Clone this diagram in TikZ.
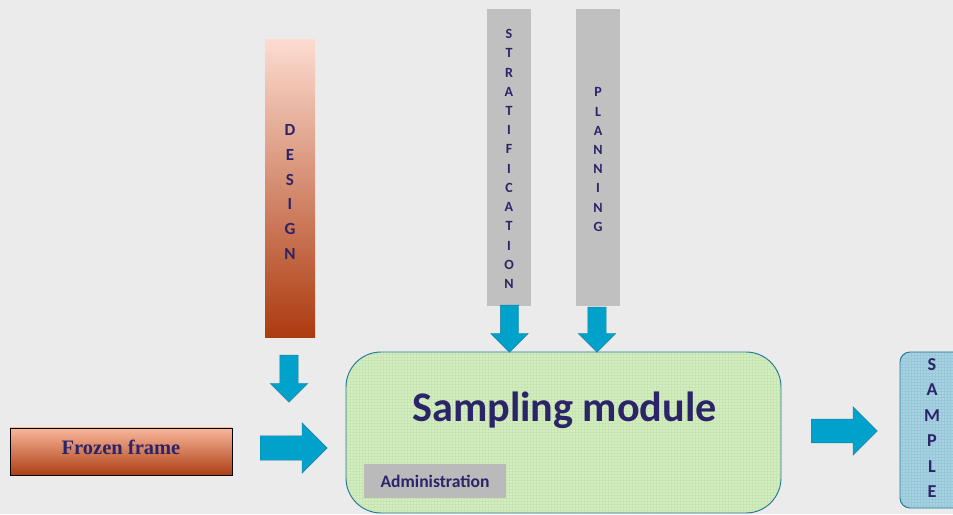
\documentclass[tikz,border=0pt]{standalone}
\usepackage{fontspec}
\setmainfont{Liberation Serif}
\setsansfont{Carlito}
\usetikzlibrary{shapes.arrows}

\definecolor{bggray}{HTML}{EBEBEB}
\definecolor{navy}{HTML}{2B2468}
\definecolor{barGray}{HTML}{C0C0C0}
\definecolor{designTop}{HTML}{FCDCD0}
\definecolor{designBot}{HTML}{AC3A0E}
\definecolor{frozenTop}{HTML}{F9B79B}
\definecolor{frozenMid}{HTML}{EDA386}
\definecolor{frozenBot}{HTML}{AD3E15}
\definecolor{modFill}{HTML}{D5EDC3}
\definecolor{modGrid}{HTML}{C6E5B0}
\definecolor{tealLine}{HTML}{1F7A96}
\definecolor{smpFill}{HTML}{A9D3E3}
\definecolor{smpGrid}{HTML}{97C7D9}
\definecolor{arrowFill}{HTML}{00A2CB}
\definecolor{arrowLine}{HTML}{1B7E9E}

\begin{document}
\begin{tikzpicture}[
	letters/.style={align=center,text=navy,font=\sffamily\bfseries},
	bar/.style={inner sep=0pt},
	bigarrow/.style={single arrow,anchor=tail,draw=arrowLine,fill=arrowFill,inner sep=0.36cm,single arrow head extend=0.39cm,minimum height=2.01cm},
	smallarrow/.style={single arrow,anchor=tail,draw=arrowLine,fill=arrowFill,inner sep=0.27cm,single arrow head extend=0.285cm,minimum height=1.41cm,rotate=-90},
	gridfill/.style={path picture={\draw[#1,line width=0.2pt] (path picture bounding box.south west) grid[step=0.09cm] (path picture bounding box.north east);}}
	]

	\fill[bggray] (0,0) rectangle (28.59,15.42);
	\useasboundingbox (0,0) rectangle (28.59,15.42);

	% input bars
	\node (design) at (8.70,9.75) [bar,minimum width=1.5cm,minimum height=8.94cm,top color=designTop,bottom color=designBot] {};
	\node (designtxt) at (8.70,9.66) [letters,font=\sffamily\bfseries\fontsize{14.5}{21.3}\selectfont] {D\\E\\S\\I\\G\\N};
	\node (strat) at (15.27,10.695) [bar,fill=barGray,minimum width=1.32cm,minimum height=8.91cm] {};
	\node (strattxt) at (15.27,10.65) [letters,font=\sffamily\bfseries\fontsize{12}{16.4}\selectfont] {S\\T\\R\\A\\T\\I\\F\\I\\C\\A\\T\\I\\O\\N};
	\node (plan) at (17.94,10.695) [bar,fill=barGray,minimum width=1.32cm,minimum height=8.91cm] {};
	\node (plantxt) at (17.94,10.63) [letters,font=\sffamily\bfseries\fontsize{12}{16.4}\selectfont] {P\\L\\A\\N\\N\\I\\N\\G};

	\node (frozen) at (3.63,1.875) [draw=black,thick,minimum width=6.66cm,minimum height=1.41cm,top color=frozenTop,middle color=frozenMid,bottom color=frozenBot,text=navy,font=\bfseries\fontsize{17.5}{20}\selectfont] {\raisebox{-2.5pt}[0pt][0pt]{Frozen frame}};

	% module
	\node (module) at (16.905,2.445) [draw=tealLine,thick,fill=modFill,gridfill=modGrid,rounded corners=1.05cm,minimum width=13.05cm,minimum height=4.83cm] {};
	\node (title) at (16.935,3.12) [text=navy,font=\sffamily\bfseries\fontsize{36}{40}\selectfont] {Sampling module};
	\node (admin) at (13.05,0.99) [fill=barGray!97!black,minimum width=4.26cm,minimum height=1.02cm,text=navy,font=\sffamily\bfseries\fontsize{15}{18}\selectfont] {Administration};

	\node (sample) at (27.96,2.52) [draw=tealLine,thick,fill=smpFill,gridfill=smpGrid,rounded corners=0.3cm,minimum width=1.92cm,minimum height=4.68cm] {};
	\node (sampletxt) at (27.96,2.58) [letters,font=\sffamily\bfseries\fontsize{15.5}{21.8}\selectfont] {S\\A\\M\\P\\L\\E};

	% arrows
	\node (toModule) at (7.80,1.98) [bigarrow] {};
	\node (toSample) at (24.33,2.49) [bigarrow,minimum height=1.98cm,inner sep=0.35cm,single arrow head extend=0.37cm] {};
	\node (fromDesign) at (8.67,4.77) [smallarrow] {};
	\node (fromStrat) at (15.285,6.27) [smallarrow] {};
	\node (fromPlan) at (17.91,6.21) [smallarrow,minimum height=1.35cm] {};

\end{tikzpicture}
\end{document}
